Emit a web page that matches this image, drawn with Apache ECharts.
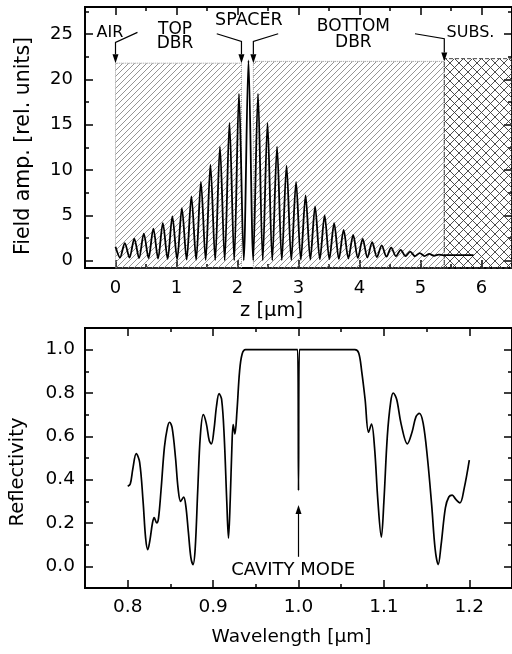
<!DOCTYPE html>
<html>
<head>
<meta charset="utf-8">
<script src="https://cdn.jsdelivr.net/npm/echarts@6/dist/echarts.min.js"></script>
<style>
  html, body { margin: 0; padding: 0; background: #fff; }
  #chart { width: 512px; height: 654px; }
</style>
</head>
<body>
<div id="chart"></div>
<script>
// ---- Field amplitude across the microcavity stack (z in µm) ----
const fieldZ = [0.000, 0.074, 0.152, 0.230, 0.308, 0.386, 0.464, 0.542, 0.620, 0.698,
  0.776, 0.854, 0.932, 1.010, 1.088, 1.166, 1.244, 1.322, 1.400, 1.478,
  1.556, 1.634, 1.712, 1.790, 1.868, 1.946, 2.024, 2.102, 2.180, 2.258,
  2.336, 2.414, 2.492, 2.570, 2.648, 2.726, 2.804, 2.882, 2.960, 3.038,
  3.116, 3.194, 3.272, 3.350, 3.428, 3.506, 3.584, 3.662, 3.740, 3.818,
  3.896, 3.974, 4.052, 4.130, 4.208, 4.286, 4.364, 4.442, 4.520, 4.598,
  4.676, 4.754, 4.832, 4.910, 4.988, 5.066, 5.144, 5.222, 5.300, 5.378,
  5.450, 5.870];
const fieldAmp = [1.55, 0.35, 1.95, 0.35, 2.45, 0.30, 3.00, 0.28, 3.55, 0.25,
  4.15, 0.20, 4.90, 0.15, 5.80, 0.12, 7.10, 0.10, 8.70, 0.08,
  10.6, 0.06, 12.6, 0.05, 15.2, 0.05, 18.4, 0.05, 22.1, 0.05,
  18.4, 0.05, 15.2, 0.05, 12.6, 0.06, 10.5, 0.08, 8.70, 0.10,
  7.20, 0.12, 6.00, 0.15, 5.00, 0.18, 4.15, 0.20, 3.40, 0.25,
  2.85, 0.30, 2.40, 0.35, 2.05, 0.40, 1.70, 0.45, 1.45, 0.50,
  1.20, 0.50, 1.00, 0.50, 0.85, 0.52, 0.75, 0.55, 0.68, 0.60,
  0.63, 0.63];

// Layer extents along z and the height of each shaded block
const layerTopDbr = [0, 2.065];
const layerBottomDbr = [2.26, 5.39];
const layerSubstrate = [5.39, 6.5];
const layerTop = [21.8, 22.0, 22.3];

// ---- Reflectivity spectrum ----
const wavelength = [0.800, 0.803, 0.806, 0.810, 0.814, 0.818, 0.821, 0.8235, 0.826, 0.829,
  0.831, 0.834, 0.836, 0.839, 0.843, 0.8465, 0.849, 0.852, 0.856, 0.859,
  0.862, 0.8655, 0.868, 0.871, 0.874, 0.8765, 0.879, 0.882, 0.885, 0.8885,
  0.892, 0.8955, 0.898, 0.901, 0.904, 0.907, 0.910, 0.913, 0.916, 0.918,
  0.920, 0.922, 0.9235, 0.9255, 0.928, 0.931, 0.934, 0.938, 0.999, 1.000,
  1.001, 1.066, 1.0705, 1.074, 1.078, 1.082, 1.0855, 1.089, 1.093, 1.097,
  1.100, 1.104, 1.108, 1.111, 1.115, 1.120, 1.1275, 1.133, 1.1375, 1.1415,
  1.146, 1.151, 1.156, 1.160, 1.1636, 1.167, 1.172, 1.176, 1.180, 1.184,
  1.189, 1.194, 1.200];
const reflectivity = [0.37, 0.38, 0.45, 0.52, 0.48, 0.30, 0.13, 0.077, 0.12, 0.20,
  0.225, 0.20, 0.22, 0.35, 0.55, 0.64, 0.665, 0.64, 0.50, 0.36,
  0.30, 0.32, 0.28, 0.16, 0.04, 0.008, 0.08, 0.35, 0.60, 0.70,
  0.66, 0.58, 0.565, 0.63, 0.74, 0.797, 0.77, 0.60, 0.30, 0.13,
  0.30, 0.55, 0.654, 0.611, 0.72, 0.90, 0.98, 1.0, 1.0, 0.35,
  1.0, 1.0, 0.985, 0.90, 0.77, 0.619, 0.657, 0.55, 0.30, 0.135,
  0.30, 0.60, 0.76, 0.80, 0.77, 0.66, 0.565, 0.62, 0.69, 0.706,
  0.66, 0.50, 0.28, 0.08, 0.008, 0.10, 0.27, 0.32, 0.329, 0.31,
  0.293, 0.36, 0.49];

// ---- Axis ranges and ticks ----
const zRange = [-0.5, 6.5];
const zMajor = [0, 1, 2, 3, 4, 5, 6];
const zMinor = [0.5, 1.5, 2.5, 3.5, 4.5, 5.5];
const ampRange = [-0.8, 28];
const ampMajor = [0, 5, 10, 15, 20, 25];
const ampMinor = [2.5, 7.5, 12.5, 17.5, 22.5, 27.5];
const wlRange = [0.75, 1.25];
const wlMajor = [0.8, 0.9, 1.0, 1.1, 1.2];
const wlMinor = [0.85, 0.95, 1.05, 1.15];
const reflRange = [-0.1, 1.1];
const reflMajor = [0.0, 0.2, 0.4, 0.6, 0.8, 1.0];
const reflMinor = [0.1, 0.3, 0.5, 0.7, 0.9];

const FONT = '"DejaVu Sans", "Liberation Sans", sans-serif';

// Diagonal hatch tiles for the mirror and substrate blocks
function hatchTile(size, color, width, cross) {
  const c = document.createElement('canvas');
  c.width = size; c.height = size;
  const g = c.getContext('2d');
  g.strokeStyle = color; g.lineWidth = width;
  g.beginPath();
  g.moveTo(0, size); g.lineTo(size, 0);
  g.moveTo(-size / 2, size / 2); g.lineTo(size / 2, -size / 2);
  g.moveTo(size / 2, size * 1.5); g.lineTo(size * 1.5, size / 2);
  if (cross) {
    g.moveTo(0, 0); g.lineTo(size, size);
    g.moveTo(-size / 2, size / 2); g.lineTo(size / 2, size * 1.5);
    g.moveTo(size / 2, -size / 2); g.lineTo(size * 1.5, size / 2);
  }
  g.stroke();
  return c;
}
const singleHatch = { image: hatchTile(6, '#7a7a7a', 0.8, false), repeat: 'repeat' };
const crossHatch = { image: hatchTile(9, '#3a3a3a', 0.9, true), repeat: 'repeat' };

function axis(grid, pos, range, ticks, len, label) {
  const a = {
    type: 'value', gridIndex: grid, position: pos, min: range[0], max: range[1],
    axisLine: { show: true, onZero: false, lineStyle: { color: '#000', width: 1.8 } },
    axisTick: { show: true, inside: true, length: len, customValues: ticks,
      lineStyle: { color: '#000', width: 1.5 } },
    axisLabel: { show: false },
    splitLine: { show: false },
    axisPointer: { show: false }
  };
  if (label) {
    a.axisLabel = { show: true, customValues: ticks, formatter: label.fmt, margin: label.margin,
      color: '#000', fontFamily: FONT, fontSize: label.size };
  }
  return a;
}
const intFmt = v => String(Math.round(v));
const oneDec = v => v.toFixed(1);

const xAxes = [
  axis(0, 'bottom', zRange, zMajor, 8, { fmt: intFmt, margin: 11, size: 18 }),
  axis(0, 'bottom', zRange, zMinor, 4),
  axis(0, 'top', zRange, zMajor, 8),
  axis(0, 'top', zRange, zMinor, 4),
  axis(1, 'bottom', wlRange, wlMajor, 8, { fmt: oneDec, margin: 10, size: 18.5 }),
  axis(1, 'bottom', wlRange, wlMinor, 4),
  axis(1, 'top', wlRange, wlMajor, 8),
  axis(1, 'top', wlRange, wlMinor, 4)
];
const yAxes = [
  axis(0, 'left', ampRange, ampMajor, 8, { fmt: intFmt, margin: 12, size: 18 }),
  axis(0, 'left', ampRange, ampMinor, 4),
  axis(0, 'right', ampRange, ampMajor, 8),
  axis(0, 'right', ampRange, ampMinor, 4),
  axis(1, 'left', reflRange, reflMajor, 8, { fmt: oneDec, margin: 10, size: 18.5 }),
  axis(1, 'left', reflRange, reflMinor, 4),
  axis(1, 'right', reflRange, reflMajor, 8),
  axis(1, 'right', reflRange, reflMinor, 4)
];

const blockStyle = (fill, border, type) => ({
  color: fill, borderColor: border, borderWidth: 1, borderType: type
});

const chart = echarts.init(document.getElementById('chart'), null, { renderer: 'canvas' });
chart.setOption({
  animation: false,
  backgroundColor: '#fff',
  grid: [
    { left: 85, top: 7, width: 431, height: 261 },
    { left: 85, top: 328, width: 431, height: 260 }
  ],
  xAxis: xAxes,
  yAxis: yAxes,
  series: [
    {
      type: 'line', xAxisIndex: 0, yAxisIndex: 0,
      data: fieldZ.map((z, i) => [z, fieldAmp[i]]),
      showSymbol: false, smooth: 0.3,
      lineStyle: { color: '#000', width: 1.8 },
      z: 3,
      markArea: {
        silent: true,
        label: { show: false },
        data: [
          [{ xAxis: layerTopDbr[0], yAxis: ampRange[0], itemStyle: blockStyle(singleHatch, '#999', 'dotted') },
           { xAxis: layerTopDbr[1], yAxis: layerTop[0] }],
          [{ xAxis: layerBottomDbr[0], yAxis: ampRange[0], itemStyle: blockStyle(singleHatch, '#999', 'dotted') },
           { xAxis: layerBottomDbr[1], yAxis: layerTop[1] }],
          [{ xAxis: layerSubstrate[0], yAxis: ampRange[0], itemStyle: blockStyle(crossHatch, '#444', 'dashed') },
           { xAxis: layerSubstrate[1], yAxis: layerTop[2] }]
        ]
      }
    },
    {
      type: 'line', xAxisIndex: 4, yAxisIndex: 4,
      data: wavelength.map((w, i) => [w, reflectivity[i]]),
      showSymbol: false, smooth: 0.35,
      lineStyle: { color: '#000', width: 1.7 }
    }
  ]
});

// ---- Annotations: layer names, pointer arrows and axis titles ----
const P0 = (x, y) => chart.convertToPixel({ xAxisIndex: 0, yAxisIndex: 0 }, [x, y]);
const P1 = (x, y) => chart.convertToPixel({ xAxisIndex: 4, yAxisIndex: 4 }, [x, y]);

function label(p, text, size) {
  return { type: 'text', x: p[0], y: p[1], z: 10,
    style: { text: text, fill: '#000', font: size + 'px ' + FONT, align: 'center', verticalAlign: 'middle' } };
}
function arrow(pts) {
  const tip = pts[pts.length - 1], prev = pts[pts.length - 2];
  const dx = tip[0] - prev[0], dy = tip[1] - prev[1];
  const L = Math.hypot(dx, dy), ux = dx / L, uy = dy / L;
  const hl = 9, hw = 3;
  const base = [tip[0] - ux * hl, tip[1] - uy * hl];
  const line = pts.slice(0, -1).concat([base]);
  return [
    { type: 'polyline', z: 10, shape: { points: line }, style: { stroke: '#000', lineWidth: 1.2, fill: null } },
    { type: 'polygon', z: 10, shape: { points: [tip, [base[0] - uy * hw, base[1] + ux * hw], [base[0] + uy * hw, base[1] - ux * hw]] },
      style: { fill: '#000' } }
  ];
}
function title(x, y, text, size, rotated) {
  return { type: 'text', x: x, y: y, z: 10, rotation: rotated ? Math.PI / 2 : 0,
    style: { text: text, fill: '#000', font: size + 'px ' + FONT, align: 'center', verticalAlign: 'middle' } };
}

const airText = P0(-0.31, 25.1);
const graphics = [
  { type: 'text', x: airText[0], y: airText[1], z: 10,
    style: { text: 'AIR', fill: '#000', font: '16px ' + FONT, align: 'left', verticalAlign: 'middle' } },
  ...arrow([P0(0.36, 25.2), P0(layerTopDbr[0], 24.1), P0(layerTopDbr[0], layerTop[0])]),
  label(P0(0.976, 25.5), 'TOP', 17),
  label(P0(0.976, 24.0), 'DBR', 17),
  label(P0(2.187, 26.5), 'SPACER', 17.5),
  ...arrow([P0(1.66, 25.05), P0(layerTopDbr[1], 24.2), P0(layerTopDbr[1], layerTop[0])]),
  ...arrow([P0(2.667, 25.05), P0(layerBottomDbr[0], 24.2), P0(layerBottomDbr[0], layerTop[0])]),
  label(P0(3.90, 25.8), 'BOTTOM', 17),
  label(P0(3.90, 24.1), 'DBR', 17),
  ...arrow([P0(4.91, 25.05), P0(layerSubstrate[0], 24.5), P0(layerSubstrate[0], layerTop[1])]),
  label(P0(5.82, 25.2), 'SUBS.', 16),
  label(P1(0.9938, -0.02), 'CAVITY MODE', 18),
  ...arrow([P1(1.0, 0.044), P1(1.0, 0.283)]),
  title(24, 146, 'Field amp. [rel. units]', 20.5, true),
  title(271.5, 311, 'z [µm]', 19.5, false),
  title(18, 472, 'Reflectivity', 19.5, true),
  title(291.5, 637, 'Wavelength [µm]', 18.5, false)
];
chart.setOption({ graphic: graphics });
</script>
</body>
</html>
